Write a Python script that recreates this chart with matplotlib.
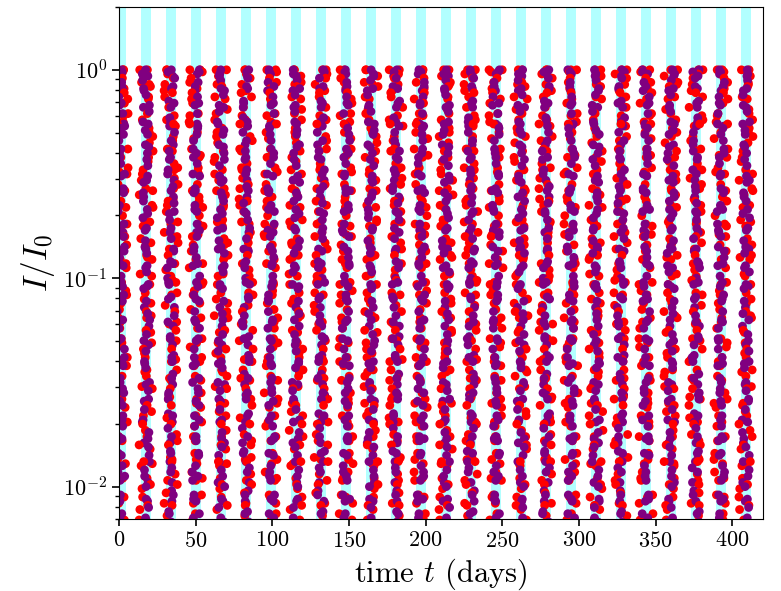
import numpy as np
import matplotlib
matplotlib.use("Agg")
import matplotlib.pyplot as plt

plt.rcParams['font.family'] = 'cmr10'
plt.rcParams['mathtext.fontset'] = 'cm'
plt.rcParams['axes.formatter.use_mathtext'] = True

# centres of the shaded windows (days)
band_centers = [1.3, 17.6, 33.9, 50.2, 66.5, 82.8, 99.1, 115.4, 131.7, 148.0,
                164.3, 180.6, 196.9, 213.2, 229.5, 245.8, 262.1, 278.4, 294.7,
                311.0, 327.3, 343.6, 359.9, 376.2, 392.5, 408.8]
band_half_width = 3.25

red_y = [
    [0, -1, -4, -9, -11, -16, -22, -25, -26, -33, -38, -41, -47, -49, -55, -61, -63,
     -70, -74, -79, -80, -87, -93, -95, -102, -106, -108, -115, -121, -124, -129,
     -133, -140, -142, -149, -155, -158, -162, -169, -171, -178, -184, -187, -193,
     -197, -204, -208, -213, -219],
    [0, -3, -6, -8, -14, -19, -21, -28, -30, -35, -42, -44, -50, -53, -58, -60, -66,
     -72, -75, -81, -84, -90, -91, -98, -103, -110, -112, -118, -119, -126, -131,
     -136, -138, -145, -147, -152, -160, -164, -166, -173, -176, -182, -189, -190,
     -196, -201, -205, -211, -216],
    [0, -2, -7, -10, -13, -18, -24, -27, -32, -34, -39, -45, -48, -52, -57, -62, -65,
     -68, -73, -78, -83, -86, -89, -96, -99, -101, -107, -113, -116, -122, -125,
     -130, -134, -139, -144, -148, -153, -157, -161, -167, -170, -175, -180, -186,
     -188, -194, -199, -203, -209, -214, -218],
]
purple_y = [
    [0, -2, -5, -10, -12, -17, -20, -26, -29, -31, -37, -40, -46, -51, -54, -59, -63,
     -67, -71, -77, -82, -85, -88, -94, -97, -104, -105, -111, -117, -120, -127,
     -130, -135, -141, -143, -150, -154, -159, -163, -168, -174, -177, -181, -185,
     -192, -195, -200, -206, -210, -215, -220],
    [0, -3, -4, -9, -15, -18, -23, -25, -30, -36, -39, -43, -48, -53, -56, -61, -64,
     -69, -72, -76, -81, -86, -92, -95, -100, -103, -109, -114, -118, -123, -128,
     -132, -137, -140, -146, -151, -156, -158, -165, -169, -172, -179, -183, -188,
     -191, -198, -202, -207, -212, -217],
    [0, -1, -6, -8, -13, -16, -21, -27, -28, -34, -38, -42, -45, -50, -57, -58, -65,
     -68, -74, -78, -80, -87, -90, -93, -99, -102, -108, -110, -116, -121, -124,
     -129, -134, -138, -142, -148, -153, -155, -161, -166, -171, -176, -178, -184,
     -190, -193, -197, -204, -207, -213, -218],
]

# horizontal offsets from the window centre, tenths of a day
red_dx = [15, -31, 39, -10, 6, -41, 22, -19, 34, 0, -26, 11, 44, -38, -5, 27, -15, 17,
          -34, 4, 36, -22, 9, -44, 25, -8, 41, -29, 14, -1, 31, -17, -40, 20, 46, -12,
          2, -32, 29, -24, 10, 37, -4, -45, 21, -11, 32, -27, 7]
purple_dx = [5, -14, 19, -3, 10, -20, 2, 15, -9, 22, -16, 7, -1, 13, -24, 18, -6, 11,
             -12, 0, 21, -18, 4, -8, 16, -22, 9, -4, 24, -11, 1, 14, -17, 6, -2, 20,
             -13, 12, -7, 3, -19, 17, -5, 8, -15, 23, -10, 0, 11]


def streak_points(center, k, ylists, dxlist, shift):
    ys = ylists[k % len(ylists)]
    n = len(dxlist)
    xs = [center + dxlist[(11 * i + shift) % n] / 10.0 for i in range(len(ys))]
    vals = [10 ** (v / 100.0) for v in ys]
    return xs, vals


fig = plt.figure(figsize=(7.81, 5.91), dpi=100)
ax = fig.add_axes([0.1524, 0.122, 0.8246, 0.866])

for c in band_centers:
    ax.axvspan(c - band_half_width, c + band_half_width, color='cyan', alpha=0.3, lw=0)

# one list so red and purple overlap each other in mixed order
xs, ys, cols = [], [], []
for k, c in enumerate(band_centers):
    r1 = streak_points(c, k, red_y, red_dx, 5 * k)
    r2 = streak_points(c, k + 1, red_y, red_dx, 5 * k + 17)
    p1 = streak_points(c, k + 2, purple_y, purple_dx, 3 * k)
    p2 = streak_points(c, k, purple_y, purple_dx, 3 * k + 23)
    n = max(len(r1[0]), len(r2[0]), len(p1[0]), len(p2[0]))
    for i in range(n):
        layers = [(r1, 'red'), (p1, 'purple')]
        if i % 2 == 0:
            layers.insert(0, (r2, 'red'))
        else:
            layers.append((p2, 'purple'))
        for (pts, col) in layers:
            if i < len(pts[0]):
                xs.append(pts[0][i])
                ys.append(pts[1][i])
                cols.append(col)

ax.scatter(xs, ys, s=40, c=cols, linewidths=0, zorder=2)

ax.set_yscale('log')
ax.set_xlim(0, 420)
ax.set_ylim(0.007, 2)
ax.set_xticks([0, 50, 100, 150, 200, 250, 300, 350, 400])
ax.tick_params(axis='both', which='major', labelsize=16, length=5, width=1.2)
ax.tick_params(axis='y', which='minor', length=3, width=1.0)
ax.set_xlabel(r'time $t$ (days)', fontsize=22)
ax.set_ylabel(r'$I/I_0$', fontsize=24)

fig.savefig('out.png', dpi=100)
